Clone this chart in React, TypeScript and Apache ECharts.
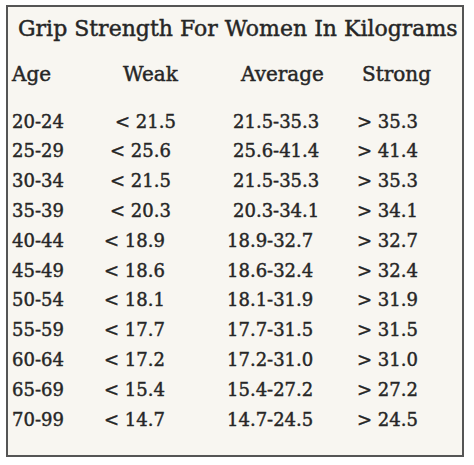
import React, { useEffect, useRef } from "react";
import * as echarts from "echarts";

const title = "Grip Strength For Women In Kilograms";
const headers = ["Age", "Weak", "Average", "Strong"];
const ageGroups = ["20-24", "25-29", "30-34", "35-39", "40-44", "45-49", "50-54", "55-59", "60-64", "65-69", "70-99"];
const weakBelow = [21.5, 25.6, 21.5, 20.3, 18.9, 18.6, 18.1, 17.7, 17.2, 15.4, 14.7];
const strongAbove = [35.3, 41.4, 35.3, 34.1, 32.7, 32.4, 31.9, 31.5, 31.0, 27.2, 24.5];

const FONT = "'DejaVu Serif', 'Liberation Serif', serif";
const INK = "#262626";

export default function App() {
  const ref = useRef<HTMLDivElement>(null);
  useEffect(() => {
    if (!ref.current) return;
    const chart = echarts.init(ref.current, null, { renderer: "svg" });
    const fmt = (v: number) => v.toFixed(1);
    const headerX = [12, 123, 241, 362];
    const txt = (x: number, y: number, text: string, size: number) => ({
      type: "text",
      x,
      y,
      style: {
        text,
        font: `${size}px ${FONT}`,
        fill: INK,
        stroke: INK,
        lineWidth: 0.45,
        textVerticalAlign: "middle",
      },
    });
    const elements: any[] = [
      {
        type: "rect",
        shape: { x: 7, y: 6, width: 456, height: 450 },
        style: { fill: "#f8f6f1", stroke: "#555555", lineWidth: 2 },
      },
      txt(18, 28, title, 22),
    ];
    headers.forEach((h, i) => elements.push(txt(headerX[i], 74, h, 20)));
    ageGroups.forEach((age, r) => {
      const y = 121 + r * 29.8;
      const weakX = r === 0 ? 115 : r < 4 ? 110 : 104;
      const avgX = r < 4 ? 233 : 227;
      const strongX = 357;
      elements.push(txt(12, y, age, 18));
      elements.push(txt(weakX, y, `< ${fmt(weakBelow[r])}`, 18));
      elements.push(txt(avgX, y, `${fmt(weakBelow[r])}-${fmt(strongAbove[r])}`, 18));
      elements.push(txt(strongX, y, `> ${fmt(strongAbove[r])}`, 18));
    });
    chart.setOption({ animation: false, backgroundColor: "#ffffff", graphic: { elements } });
    return () => chart.dispose();
  }, []);
  return <div ref={ref} style={{ position: "fixed", left: 0, top: 0, width: 474, height: 465 }} />;
}
